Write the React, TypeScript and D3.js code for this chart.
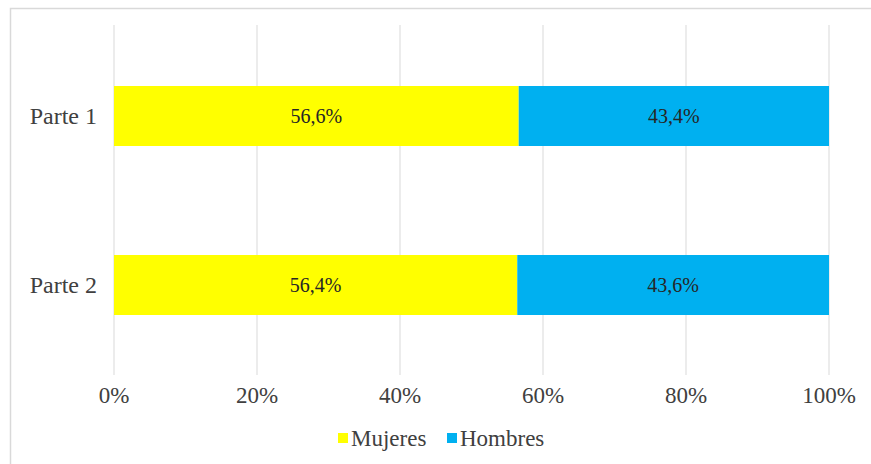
import React from "react";
import * as d3 from "d3";

const categories = ["Parte 1", "Parte 2"];
const mujeres = [56.6, 56.4];
const hombres = [43.4, 43.6];
const seriesNames = ["Mujeres", "Hombres"];
const seriesColors = ["#FFFF00", "#00B0F0"];
const ticks = [0, 20, 40, 60, 80, 100];

const W = 871;
const H = 464;
const FONT = '"Liberation Serif", "DejaVu Serif", "Times New Roman", serif';

const fmt = (v: number) => v.toFixed(1).replace(".", ",") + "%";

export default function App() {
  const x = d3.scaleLinear().domain([0, 100]).range([114, 829]);
  const y = d3
    .scaleBand<string>()
    .domain(categories)
    .range([35.3, 365.7])
    .paddingInner(0.645)
    .paddingOuter(0.3);
  const bw = y.bandwidth();
  const data = categories.map((c, i) => ({ c, vals: [mujeres[i], hombres[i]] }));

  return (
    <svg
      width={W}
      height={H}
      style={{ position: "absolute", left: 0, top: 0, background: "#fff", fontFamily: FONT }}
    >
      <rect x={10.5} y={8.5} width={W + 10} height={H + 10} fill="#fff" stroke="#D9D9D9" strokeWidth={1.5} />
      {ticks.map((t) => (
        <line key={t} x1={x(t)} x2={x(t)} y1={25} y2={375} stroke="#D9D9D9" strokeWidth={1} />
      ))}
      {data.map((d) => {
        let acc = 0;
        const yy = y(d.c)!;
        return (
          <g key={d.c}>
            {d.vals.map((v, j) => {
              const x0 = x(acc);
              acc += v;
              const x1 = x(acc);
              return (
                <g key={j}>
                  <rect x={x0} y={yy} width={x1 - x0} height={bw} fill={seriesColors[j]} />
                  <text
                    x={(x0 + x1) / 2}
                    y={yy + bw / 2}
                    dy="0.35em"
                    textAnchor="middle"
                    fontSize={20}
                    fill="#262626"
                    style={{ fontFamily: FONT }}
                  >
                    {fmt(v)}
                  </text>
                </g>
              );
            })}
            <text
              x={97}
              y={yy + bw / 2}
              dy="0.35em"
              textAnchor="end"
              fontSize={24}
              fill="#404040"
              style={{ fontFamily: FONT }}
            >
              {d.c}
            </text>
          </g>
        );
      })}
      {ticks.map((t) => (
        <text
          key={t}
          x={x(t)}
          y={395}
          dy="0.35em"
          textAnchor="middle"
          fontSize={23}
          fill="#404040"
          style={{ fontFamily: FONT }}
        >
          {t + "%"}
        </text>
      ))}
      <g>
        <rect x={338} y={433} width={10} height={10} fill={seriesColors[0]} />
        <text x={351} y={438} dy="0.35em" fontSize={23} fill="#404040" style={{ fontFamily: FONT }}>
          {seriesNames[0]}
        </text>
        <rect x={447} y={433} width={10} height={10} fill={seriesColors[1]} />
        <text x={460} y={438} dy="0.35em" fontSize={23} fill="#404040" style={{ fontFamily: FONT }}>
          {seriesNames[1]}
        </text>
      </g>
    </svg>
  );
}
